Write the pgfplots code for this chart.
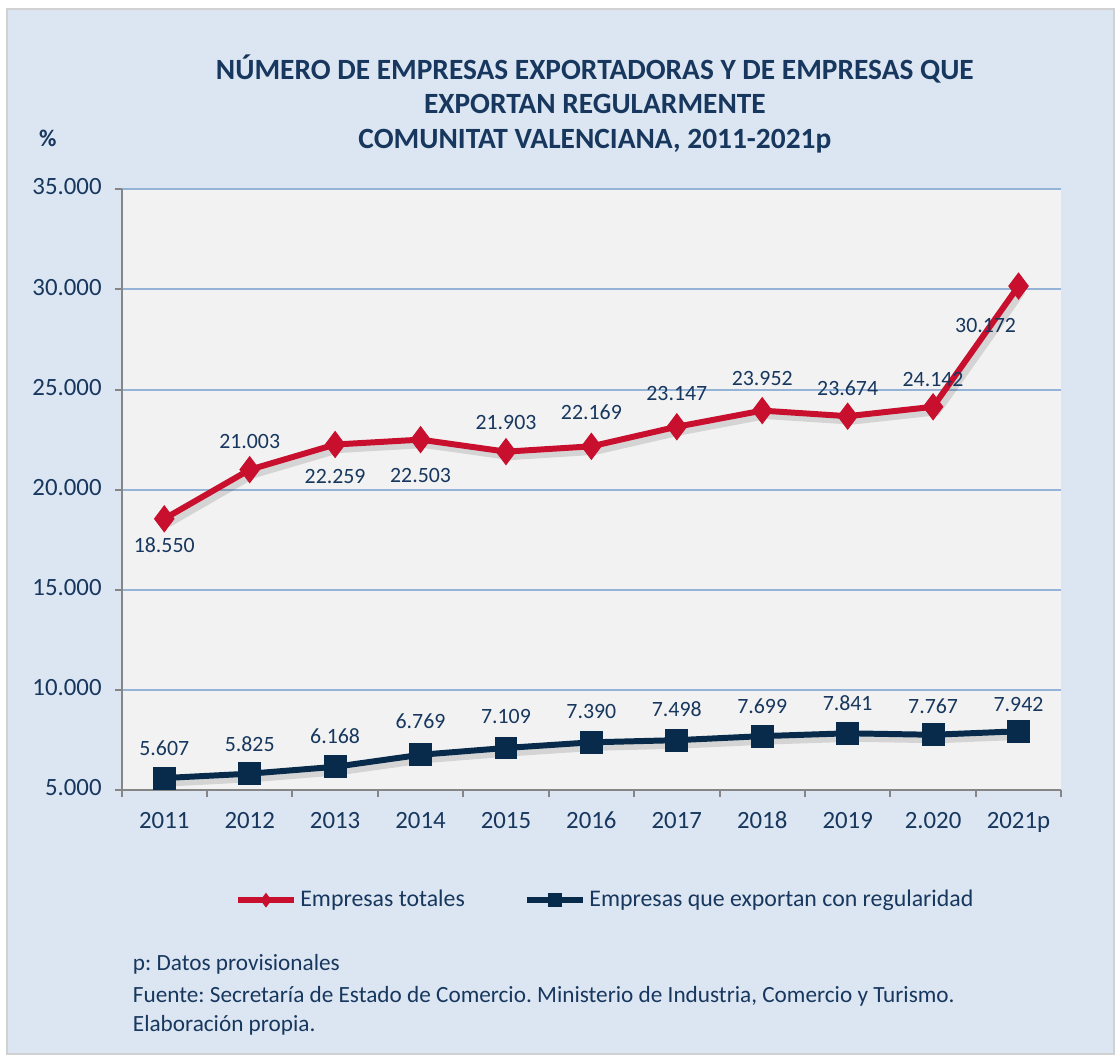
\documentclass[border=0pt]{standalone}
\usepackage{pgfplots}
\pgfplotsset{compat=1.18}
\usepackage{pgfplotstable}
\usepackage{fontspec}
\setmainfont{Carlito}
\frenchspacing

\definecolor{rojo}{HTML}{C80F2E}
\definecolor{marino}{HTML}{082B4B}
\definecolor{textc}{HTML}{17375E}
\definecolor{fondo}{HTML}{DCE6F2}
\definecolor{plotbg}{HTML}{F2F2F2}
\definecolor{rejilla}{HTML}{95B3D7}
\definecolor{eje}{HTML}{868686}

% x = category index, dx/dy = label offset in bp
\pgfplotstableread{
x y lab dx dy
0 18550 18.550 0 -13
1 21003 21.003 0 14
2 22259 22.259 0 -16
3 22503 22.503 0 -18
4 21903 21.903 0 14.5
5 22169 22.169 0 17
6 23147 23.147 0 16.5
7 23952 23.952 0 16
8 23674 23.674 0 14
9 24142 24.142 0 13.5
10 30172 30.172 -16.5 -20
}\totales

\pgfplotstableread{
x y lab dx dy
0 5607 5.607 0 15
1 5825 5.825 0 15
2 6168 6.168 0 15.5
3 6769 6.769 0 17
4 7109 7.109 0 16
5 7390 7.390 0 15.5
6 7498 7.498 0 15.5
7 7699 7.699 0 15
8 7841 7.841 0 15
9 7767 7.767 0 14.5
10 7942 7.942 0 13.5
}\regulares

\begin{document}
\begin{tikzpicture}[x=0.5bp,y=-0.5bp]
% page and chart area
\fill[white] (0,0) rectangle (1115,1054);
\fill[fondo,draw=black!18,line width=1bp] (7,9) rectangle (1118,1058);
\path (0,0) rectangle (1115,1054);

\node[text=textc,font=\fontsize{14.8}{17.3}\selectfont\bfseries,align=center] at (597,104)
  {NÚMERO DE EMPRESAS EXPORTADORAS Y DE EMPRESAS QUE\\EXPORTAN REGULARMENTE\\COMUNITAT VALENCIANA, 2011-2021p};
\node[text=textc,font=\fontsize{12}{14}\selectfont\bfseries] at (48,139) {\%};

\begin{axis}[
    at={(61bp,-396.5bp)}, anchor=south west,
    scale only axis, width=471.5bp, height=301.5bp,
    axis background/.style={fill=plotbg},
    xmin=-0.5, xmax=10.5, ymin=5000, ymax=35000,
    axis x line*=bottom, axis y line*=left,
    axis line style={draw=eje,line width=1bp},
    xtick={0,...,10},
    xticklabels={2011,2012,2013,2014,2015,2016,2017,2018,2019,2.020,2021p},
    major x tick style={draw=none},
    minor xtick={-0.5,0.5,...,10.5},
    minor tick length=3.5bp,
    minor x tick style={draw=eje,line width=1bp},
    ytick={5000,10000,...,35000},
    major tick length=3.5bp,
    tick align=outside,
    major y tick style={draw=eje,line width=1bp},
    ymajorgrids, grid style={draw=rejilla,line width=1bp},
    scaled y ticks=false,
    yticklabel style={/pgf/number format/1000 sep={.}},
    /pgf/number format/assume math mode=true,
    typeset ticklabels with strut,
    ticklabel style={text=textc,font=\fontsize{12.5}{14}\selectfont},
    xticklabel style={yshift=-2.5bp},
    yticklabel style={xshift=-3bp},
    clip=false,
    legend style={at={(rel axis cs:0.515,-0.183)}, anchor=center, draw=none, fill=none,
        legend columns=2, text=textc, font=\fontsize{12}{14}\selectfont,
        nodes={inner xsep=1.5bp},
        /tikz/every even column/.append style={column sep=28bp},
        legend cell align=left},
    legend image code/.code={\draw[mark repeat=2,mark phase=2,#1,mark size=3.3bp]
        plot coordinates {(0bp,0bp) (14.25bp,0bp) (28.5bp,0bp)};},
    nodes near coords,
    point meta=explicit symbolic,
    nodes near coords align={center},
    every node near coord/.append style={anchor=center, text=textc,
        font=\fontsize{11}{12}\selectfont, xshift=\ldx bp, yshift=\ldy bp},
    visualization depends on={\thisrow{dx} \as \ldx},
    visualization depends on={\thisrow{dy} \as \ldy},
]
% soft shadows
\addplot[forget plot, black, opacity=0.12, line width=3.5bp, mark=none, nodes near coords=,
    transform canvas={shift={(2bp,-2.5bp)}}] table[x=x,y=y,meta=lab] {\totales};
\addplot[forget plot, black, opacity=0.12, line width=3.5bp, mark=none, nodes near coords=,
    transform canvas={shift={(2bp,-2.5bp)}}] table[x=x,y=y,meta=lab] {\regulares};

\addplot[rojo, line width=3bp, mark=diamond*, mark size=6.5bp,
    mark options={solid,fill=rojo,draw=rojo,line width=0.5bp}]
    table[x=x,y=y,meta=lab] {\totales};
\addlegendentry{Empresas totales}
\addplot[marino, line width=3bp, mark=square*, mark size=5.5bp,
    mark options={solid,fill=marino,draw=marino,line width=0.5bp}]
    table[x=x,y=y,meta=lab] {\regulares};
\addlegendentry{Empresas que exportan con regularidad}
\end{axis}

\begin{scope}[every node/.style={anchor=west,text=textc,font=\fontsize{11.7}{13}\selectfont,inner sep=0pt}]
\node at (133,968) {p: Datos provisionales};
\node at (133,1000) {Fuente: Secretaría de Estado de Comercio. Ministerio de Industria, Comercio y Turismo.};
\node at (133,1029) {Elaboración propia.};
\end{scope}
\end{tikzpicture}
\end{document}
